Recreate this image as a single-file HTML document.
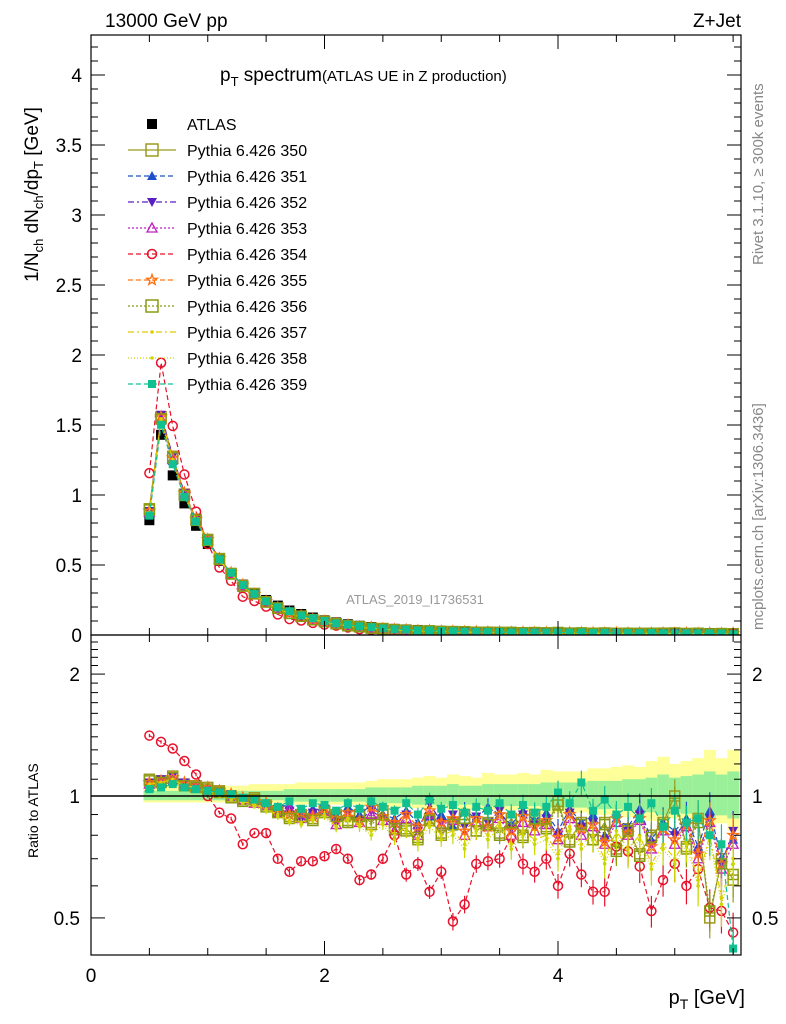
<!DOCTYPE html>
<html><head><meta charset="utf-8"><style>
body{margin:0;background:#fff;}
svg{display:block;font-family:"Liberation Sans",sans-serif;}
</style></head><body>
<svg id="c" width="786" height="1024" viewBox="0 0 786 1024">
<defs>
<clipPath id="cm"><rect x="91" y="35" width="650" height="600"/></clipPath>
<clipPath id="cr"><rect x="91" y="635" width="650" height="320"/></clipPath>
</defs>
<text x="105" y="27" font-size="19">13000 GeV pp</text>
<text x="741" y="27" font-size="19" text-anchor="end">Z+Jet</text>
<g id="bands" clip-path="url(#cr)"></g>
<g id="mainMarks" clip-path="url(#cm)"></g>
<g id="ratioMarks" clip-path="url(#cr)"></g>
<line x1="91" y1="796" x2="741" y2="796" stroke="#000" stroke-width="1.5"/>
<rect x="91" y="35" width="650" height="600" fill="none" stroke="#000" stroke-width="1.2"/>
<rect x="91" y="635" width="650" height="320" fill="none" stroke="#000" stroke-width="1.2"/>
<g id="ticks"></g>
<text x="220" y="81" font-size="19">p<tspan font-size="13" dy="5">T</tspan><tspan dy="-5"> spectrum</tspan><tspan font-size="15">(ATLAS UE in Z production)</tspan></text>
<g id="legend"></g>
<text x="415" y="604" font-size="13" fill="#999" text-anchor="middle">ATLAS_2019_I1736531</text>
<text transform="translate(763,265) rotate(-90)" font-size="15" fill="#888">Rivet 3.1.10, ≥ 300k events</text>
<text transform="translate(763,630) rotate(-90)" font-size="15" fill="#888">mcplots.cern.ch [arXiv:1306.3436]</text>
<text transform="translate(38,282) rotate(-90)" font-size="19">1/N<tspan font-size="13" dy="5">ch</tspan><tspan dy="-5"> dN</tspan><tspan font-size="13" dy="5">ch</tspan><tspan dy="-5">/dp</tspan><tspan font-size="13" dy="5">T</tspan><tspan dy="-5"> [GeV]</tspan></text>
<text transform="translate(38,858) rotate(-90)" font-size="14">Ratio to ATLAS</text>
<text x="745" y="1004" font-size="20" text-anchor="end">p<tspan font-size="14" dy="5">T</tspan><tspan dy="-5"> [GeV]</tspan></text>
</svg>
<script>
const xs=[0.5,0.6,0.7,0.8,0.9,1.0,1.1,1.2,1.3,1.4,1.5,1.6,1.7,1.8,1.9,2.0,2.1,2.2,2.3,2.4,2.5,2.6,2.7,2.8,2.9,3.0,3.1,3.2,3.3,3.4,3.5,3.6,3.7,3.8,3.9,4.0,4.1,4.2,4.3,4.4,4.5,4.6,4.7,4.8,4.9,5.0,5.1,5.2,5.3,5.4,5.5];
const atlas=[0.82,1.43,1.14,0.94,0.78,0.65,0.53,0.44,0.36,0.30,0.25,0.21,0.175,0.15,0.125,0.105,0.09,0.077,0.066,0.057,0.050,0.044,0.040,0.036,0.033,0.030,0.028,0.026,0.024,0.023,0.022,0.021,0.020,0.019,0.018,0.018,0.017,0.017,0.016,0.016,0.016,0.015,0.015,0.015,0.015,0.014,0.014,0.014,0.014,0.014,0.014];
const r350=[1.10,1.09,1.12,1.07,1.06,1.05,1.03,1.00,0.98,0.99,0.95,0.92,0.89,0.90,0.88,0.92,0.90,0.87,0.90,0.86,0.92,0.84,0.83,0.78,0.88,0.80,0.86,0.90,0.82,0.86,0.81,0.88,0.80,0.90,0.84,0.97,0.78,0.86,0.78,0.86,0.74,0.83,0.72,0.80,0.86,1.00,0.75,0.88,0.50,0.70,0.62];
const r351=[1.05,1.07,1.09,1.06,1.05,1.04,1.02,1.00,0.99,0.98,0.96,0.94,0.95,0.90,0.93,0.92,0.89,0.94,0.90,0.95,0.90,0.88,0.92,0.86,0.89,0.90,0.84,0.92,0.88,0.94,0.90,0.85,0.92,0.87,0.91,0.82,0.93,0.86,0.90,0.80,0.88,0.84,0.93,0.78,0.86,0.82,0.88,0.75,0.92,0.70,0.78];
const r352=[1.08,1.10,1.12,1.08,1.06,1.04,1.03,1.01,0.98,0.97,0.94,0.90,0.92,0.88,0.91,0.93,0.86,0.90,0.87,0.92,0.88,0.85,0.90,0.82,0.96,0.86,0.90,0.84,0.89,0.86,0.92,0.83,0.90,0.85,0.88,0.80,0.91,0.84,0.86,0.78,0.88,0.82,0.90,0.76,0.84,0.80,0.86,0.72,0.88,0.68,0.82];
const r353=[1.07,1.08,1.10,1.07,1.05,1.04,1.02,1.00,0.98,0.96,0.95,0.91,0.93,0.88,0.90,0.92,0.85,0.89,0.86,0.90,0.87,0.82,0.88,0.80,0.90,0.85,0.87,0.80,0.86,0.84,0.88,0.80,0.86,0.82,0.85,0.78,0.88,0.80,0.84,0.76,0.86,0.80,0.87,0.74,0.82,0.76,0.84,0.70,0.86,0.66,0.76];
const r354=[1.41,1.36,1.31,1.22,1.13,1.00,0.91,0.88,0.76,0.81,0.81,0.70,0.65,0.69,0.69,0.71,0.74,0.70,0.62,0.64,0.70,0.80,0.64,0.68,0.58,0.65,0.49,0.54,0.68,0.69,0.70,0.79,0.68,0.65,0.70,0.60,0.72,0.64,0.58,0.58,0.75,0.73,0.67,0.52,0.62,0.68,0.60,0.66,0.53,0.52,0.46];
const r355=[1.08,1.09,1.11,1.08,1.06,1.05,1.03,1.01,0.99,0.97,0.96,0.93,0.90,0.91,0.89,0.93,0.88,0.91,0.87,0.94,0.89,0.86,0.90,0.84,0.92,0.86,0.88,0.82,0.88,0.84,0.90,0.82,0.89,0.84,0.87,0.79,0.90,0.83,0.85,0.77,0.88,0.81,0.88,0.75,0.83,0.78,0.85,0.72,0.87,0.68,0.80];
const r356=[1.09,1.08,1.11,1.06,1.05,1.04,1.02,0.99,0.97,0.98,0.94,0.91,0.88,0.89,0.87,0.91,0.89,0.86,0.89,0.85,0.90,0.83,0.82,0.79,0.87,0.81,0.85,0.88,0.82,0.85,0.80,0.86,0.79,0.88,0.83,0.95,0.77,0.85,0.78,0.85,0.73,0.82,0.71,0.79,0.85,0.96,0.74,0.86,0.52,0.68,0.64];
const r357=[1.07,1.08,1.10,1.06,1.05,1.03,1.01,0.99,0.97,0.95,0.93,0.90,0.87,0.86,0.88,0.90,0.84,0.88,0.85,0.82,0.86,0.80,0.84,0.78,0.86,0.80,0.82,0.76,0.84,0.80,0.86,0.76,0.82,0.78,0.80,0.72,0.84,0.76,0.80,0.70,0.82,0.74,0.80,0.68,0.76,0.70,0.78,0.62,0.80,0.56,0.70];
const r358=[1.06,1.07,1.09,1.05,1.04,1.02,1.00,0.98,0.96,0.94,0.92,0.89,0.86,0.85,0.87,0.89,0.83,0.87,0.84,0.80,0.85,0.78,0.82,0.76,0.84,0.78,0.80,0.74,0.82,0.78,0.84,0.74,0.80,0.76,0.78,0.70,0.82,0.74,0.78,0.68,0.80,0.72,0.78,0.66,0.74,0.68,0.76,0.60,0.78,0.54,0.68];
const r359=[1.04,1.05,1.07,1.05,1.04,1.03,1.02,1.01,0.99,0.98,0.96,0.94,0.97,0.93,0.96,0.95,0.92,0.96,0.93,0.97,0.94,0.92,0.96,0.90,0.98,0.93,0.95,0.91,0.94,0.92,0.96,0.90,0.95,0.91,0.94,1.02,0.96,1.08,0.92,0.98,0.90,0.94,0.88,0.96,0.84,0.92,0.86,0.88,0.80,0.76,0.42];
const errYellow=[0.06,0.06,0.06,0.06,0.06,0.06,0.06,0.06,0.06,0.07,0.07,0.07,0.07,0.08,0.08,0.08,0.08,0.08,0.08,0.09,0.10,0.10,0.10,0.11,0.12,0.11,0.13,0.12,0.11,0.14,0.13,0.13,0.14,0.13,0.16,0.15,0.15,0.15,0.17,0.17,0.18,0.19,0.18,0.22,0.25,0.20,0.22,0.24,0.30,0.24,0.30];
const errGreen=[0.03,0.03,0.03,0.03,0.03,0.03,0.03,0.03,0.03,0.03,0.03,0.03,0.04,0.04,0.04,0.04,0.04,0.04,0.04,0.05,0.05,0.05,0.05,0.06,0.06,0.06,0.07,0.06,0.06,0.07,0.07,0.07,0.07,0.07,0.08,0.08,0.08,0.08,0.09,0.09,0.09,0.10,0.10,0.11,0.13,0.11,0.12,0.13,0.15,0.13,0.15];
const mcErr=[0.01,0.01,0.01,0.01,0.01,0.01,0.01,0.01,0.01,0.01,0.02,0.02,0.02,0.02,0.02,0.02,0.02,0.03,0.03,0.03,0.03,0.03,0.04,0.04,0.04,0.04,0.05,0.05,0.05,0.05,0.05,0.06,0.06,0.06,0.06,0.07,0.07,0.07,0.07,0.08,0.08,0.08,0.09,0.09,0.09,0.10,0.10,0.11,0.11,0.12,0.12];
const legendLabels=["ATLAS","Pythia 6.426 350","Pythia 6.426 351","Pythia 6.426 352","Pythia 6.426 353","Pythia 6.426 354","Pythia 6.426 355","Pythia 6.426 356","Pythia 6.426 357","Pythia 6.426 358","Pythia 6.426 359"];
const yMainTicks=["0","0.5","1","1.5","2","2.5","3","3.5","4"];
const xTicks=["0","2","4"];
const ratioTicks=["0.5","1","2"];

const series=[
 {n:"350",d:r350,c:"#9b9b1f",m:"sqo",dash:""},
 {n:"351",d:r351,c:"#1e50c8",m:"tu",dash:"5,3"},
 {n:"352",d:r352,c:"#5a1fc0",m:"td",dash:"6,3,2,3"},
 {n:"353",d:r353,c:"#c01fc0",m:"tuo",dash:"2,2"},
 {n:"354",d:r354,c:"#e8102a",m:"co",dash:"5,3"},
 {n:"355",d:r355,c:"#ff7010",m:"st",dash:"5,3"},
 {n:"356",d:r356,c:"#8a9a10",m:"sqo",dash:"2,2"},
 {n:"357",d:r357,c:"#e0cc00",m:"dot",dash:"6,3,2,3"},
 {n:"358",d:r358,c:"#c8d800",m:"dot",dash:"1,2"},
 {n:"359",d:r359,c:"#10c090",m:"sq",dash:"5,3"}
];
const NS="http://www.w3.org/2000/svg";
const X=v=>91+v*116.75, YM=v=>635-v*140, YR=r=>796-405*Math.log10(r);
function el(tag,attrs,parent){const e=document.createElementNS(NS,tag);for(const k in attrs)e.setAttribute(k,attrs[k]);parent.appendChild(e);return e;}
function marker(g,m,x,y,c,s){
 let e;
 if(m==="sqo")e=el("rect",{x:x-s,y:y-s,width:2*s,height:2*s,fill:"none",stroke:c,"stroke-width":1.5},g);
 else if(m==="sq")e=el("rect",{x:x-s*0.8,y:y-s*0.8,width:1.6*s,height:1.6*s,fill:c},g);
 else if(m==="tu")e=el("polygon",{points:`${x},${y-s} ${x-s},${y+s*0.8} ${x+s},${y+s*0.8}`,fill:c},g);
 else if(m==="tuo")e=el("polygon",{points:`${x},${y-s} ${x-s},${y+s*0.8} ${x+s},${y+s*0.8}`,fill:"none",stroke:c,"stroke-width":1.3},g);
 else if(m==="td")e=el("polygon",{points:`${x},${y+s} ${x-s},${y-s*0.8} ${x+s},${y-s*0.8}`,fill:c},g);
 else if(m==="co")e=el("circle",{cx:x,cy:y,r:s*0.9,fill:"none",stroke:c,"stroke-width":1.5},g);
 else if(m==="st"){let p=[];for(let k=0;k<10;k++){const r=k%2?s*0.45:s*1.1,a=-Math.PI/2+k*Math.PI/5;p.push((x+r*Math.cos(a)).toFixed(1)+","+(y+r*Math.sin(a)).toFixed(1));}e=el("polygon",{points:p.join(" "),fill:"none",stroke:c,"stroke-width":1.3},g);}
 else e=el("circle",{cx:x,cy:y,r:1.8,fill:c},g);
 
 
 return e;
}
const bg=document.getElementById("bands");
xs.forEach((x,i)=>{
 const x0=X(x-0.05),w=116.75*0.1;
 const ry=el("rect",{x:x0,y:YR(1+errYellow[i]),width:w+0.5,height:YR(1-errYellow[i]*0.6)-YR(1+errYellow[i]),fill:"#ffff99"},bg);
 
 
 const rg=el("rect",{x:x0,y:YR(1+errGreen[i]),width:w+0.5,height:YR(1-errGreen[i]*0.8)-YR(1+errGreen[i]),fill:"#99f099"},bg);
 
 
});
const mg=document.getElementById("mainMarks"),rg=document.getElementById("ratioMarks");
xs.forEach((x,i)=>{const m=el("rect",{x:X(x)-5,y:YM(atlas[i])-5,width:10,height:10,fill:"#000"},mg);
 
 });
series.forEach(s=>{
 const pm=xs.map((x,i)=>X(x).toFixed(1)+","+YM(atlas[i]*s.d[i]).toFixed(1)).join(" ");
 const lm=el("polyline",{points:pm,fill:"none",stroke:s.c,"stroke-width":1.2,"stroke-dasharray":s.dash},mg);
 
 
 const pr=xs.map((x,i)=>X(x).toFixed(1)+","+YR(s.d[i]).toFixed(1)).join(" ");
 const lr=el("polyline",{points:pr,fill:"none",stroke:s.c,"stroke-width":1.2,"stroke-dasharray":s.dash},rg);
 
 
 xs.forEach((x,i)=>{
  marker(mg,s.m,X(x),YM(atlas[i]*s.d[i]),s.c,5);
  const eb=el("line",{x1:X(x),x2:X(x),y1:YR(s.d[i]*(1+mcErr[i])),y2:YR(s.d[i]*(1-mcErr[i])),stroke:s.c,"stroke-width":1.2},rg);
  
  
  marker(rg,s.m,X(x),YR(s.d[i]),s.c,5);
 });
});
const tg=document.getElementById("ticks");
function tl(x1,y1,x2,y2){const l=el("line",{x1,y1,x2,y2,stroke:"#000","stroke-width":1},tg);}
function tx(x,y,t,a,fs){const e=el("text",{x,y,"font-size":fs,"text-anchor":a},tg);e.textContent=t;}
for(let v=0;v<=5.51;v+=0.5){const x=X(v),maj=Math.abs(v%2)<0.01;const L=maj?14:7;tl(x,635,x,635-L);tl(x,35,x,35+L);tl(x,955,x,955-L);tl(x,635,x,635+L);}
xTicks.forEach(t=>tx(X(+t),982,t,"middle",19));
for(let k=0;k<=42;k++){const v=k*0.1,y=YM(v);if(y<35)break;const maj=k%5===0;const L=maj?14:7;tl(91,y,91+L,y);tl(741,y,741-L,y);}
yMainTicks.forEach(t=>tx(82,YM(+t)+7,t,"end",19));
[0.5,0.6,0.7,0.8,0.9,1,1.1,1.2,1.3,1.4,1.5,1.6,1.7,1.8,1.9,2,2.1,2.2,2.3,2.4].forEach(v=>{const y=YR(v);const maj=[0.5,1,2].includes(v);const L=maj?14:7;tl(91,y,91+L,y);tl(741,y,741-L,y);});
ratioTicks.forEach(t=>{tx(80,YR(+t)+7,t,"end",19);tx(752,YR(+t)+7,t,"start",19);});
const lg=document.getElementById("legend");
legendLabels.forEach((t,i)=>{
 const y=124+i*26;
 if(i===0){const m=el("rect",{x:147,y:y-5,width:10,height:10,fill:"#000"},lg);}
 else{const s=series[i-1];const l=el("line",{x1:128,x2:176,y1:y,y2:y,stroke:s.c,"stroke-width":1.2,"stroke-dasharray":s.dash},lg);marker(lg,s.m,152,y,s.c,s.m==="sqo"?6:5);}
 const e=el("text",{x:187,y:y+6,"font-size":16},lg);e.textContent=t;
 
 
});
</script>
</body></html>
